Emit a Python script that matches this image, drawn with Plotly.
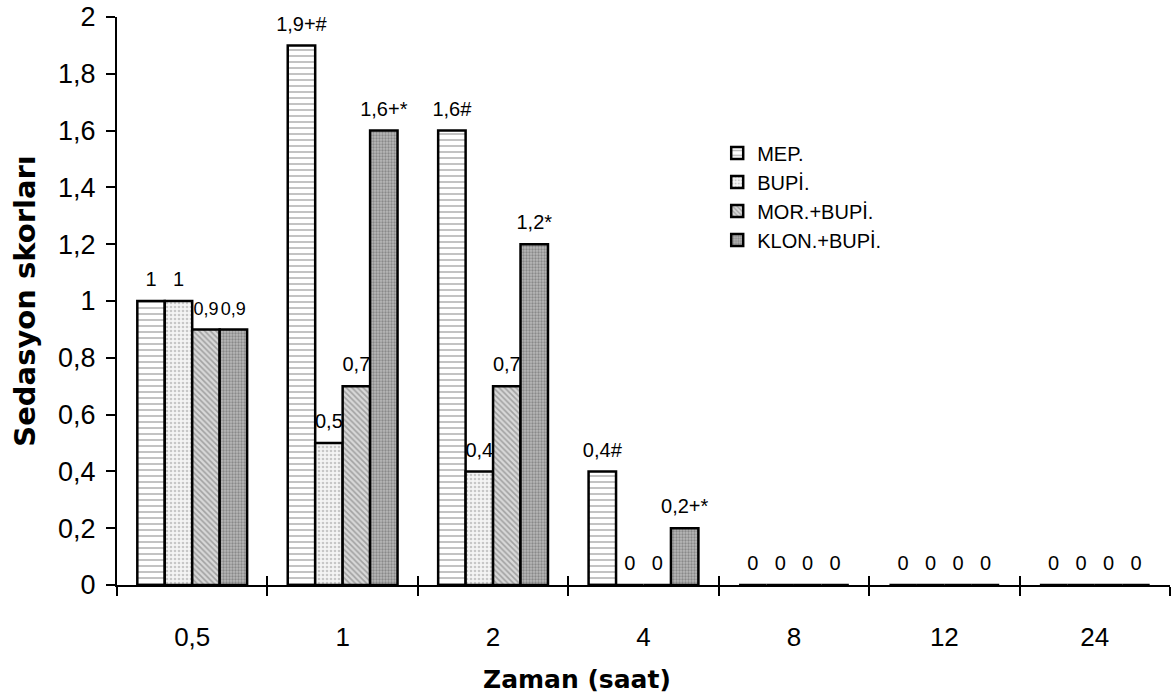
import plotly.graph_objects as go

categories = ["0,5", "1", "2", "4", "8", "12", "24"]
series_names = ["MEP.", "BUPİ.", "MOR.+BUPİ.", "KLON.+BUPİ."]
mep = [1.0, 1.9, 1.6, 0.4, 0, 0, 0]
bupi = [1.0, 0.5, 0.4, 0, 0, 0, 0]
mor = [0.9, 0.7, 0.7, 0, 0, 0, 0]
klon = [0.9, 1.6, 1.2, 0.2, 0, 0, 0]
mep_labels = ["1", "1,9+#", "1,6#", "0,4#", "0", "0", "0"]
bupi_labels = ["1", "0,5", "0,4", "0", "0", "0", "0"]
mor_labels = ["0,9", "0,7", "0,7", "0", "0", "0", "0"]
klon_labels = ["0,9", "1,6+*", "1,2*", "0,2+*", "0", "0", "0"]
y_ticks = [0, 0.2, 0.4, 0.6, 0.8, 1.0, 1.2, 1.4, 1.6, 1.8, 2.0]
x_title = "Zaman (saat)"
y_title = "Sedasyon skorları"

FONT = "Liberation Sans, Arial, sans-serif"
TFONT = "DejaVu Sans, Liberation Sans, Arial, sans-serif"

patterns = [
    dict(shape="-", fgcolor="#7a7a7a", bgcolor="white", size=6, solidity=0.3),
    dict(shape=".", fgcolor="#9a9a9a", bgcolor="#f4f4f4", size=4, solidity=0.35),
    dict(shape="\\", fgcolor="#6a6a6a", bgcolor="#d8d8d8", size=4, solidity=0.4),
    dict(shape=".", fgcolor="#5a5a5a", bgcolor="#b8b8b8", size=3, solidity=0.45),
]

fig = go.Figure()
all_vals = [mep, bupi, mor, klon]
all_labels = [mep_labels, bupi_labels, mor_labels, klon_labels]
for i, (name, vals, pat) in enumerate(zip(series_names, all_vals, patterns)):
    fig.add_trace(go.Bar(
        x=categories, y=vals, name=name, offsetgroup=str(i),
        marker=dict(color="white", pattern=pat, line=dict(color="black", width=2.5)),
    ))
for i, (vals, labels) in enumerate(zip(all_vals, all_labels)):
    # slightly smaller labels where two neighbouring labels would collide
    sizes = [18 if (lab.startswith("0,9")) else 20 for lab in labels]
    fig.add_trace(go.Scatter(
        x=categories, y=vals, text=labels, offsetgroup=str(i),
        mode="markers+text", textposition="top center",
        marker=dict(size=14, opacity=0), cliponaxis=False,
        textfont=dict(family=FONT, size=sizes, color="black"),
        showlegend=False, hoverinfo="skip",
    ))

# helper trace for inner half of crossing x ticks
fig.add_trace(go.Scatter(x=[], y=[], xaxis="x2", showlegend=False, hoverinfo="skip"))

fig.update_layout(
    width=1172, height=700,
    margin=dict(l=117, r=2, t=15, b=115),
    paper_bgcolor="white", plot_bgcolor="white",
    separators=", ",
    barmode="group", bargap=0.27, bargroupgap=0,
    scattermode="group", scattergap=0.27,
    font=dict(family=FONT, size=26, color="black"),
    showlegend=True,
    legend=dict(x=0.57, y=0.795, xanchor="left", yanchor="top",
                font=dict(family=FONT, size=20, color="black"),
                bgcolor="rgba(0,0,0,0)", itemwidth=30, tracegroupgap=0),
    xaxis=dict(
        type="category", categoryorder="array", categoryarray=categories,
        range=[-0.5, 6.5],
        showline=True, linecolor="black", linewidth=2,
        ticks="outside", tickson="boundaries", ticklen=9, tickwidth=2, tickcolor="black",
        ticklabelstandoff=28,
        tickfont=dict(family=FONT, size=26, color="black"),
        showgrid=False, zeroline=False,
    ),
    xaxis2=dict(
        overlaying="x", anchor="y", range=[-0.5, 6.5],
        tickvals=[-0.5, 0.5, 1.5, 2.5, 3.5, 4.5, 5.5, 6.5],
        ticks="inside", ticklen=9, tickwidth=2, tickcolor="black",
        showticklabels=False, showline=False, showgrid=False, zeroline=False,
    ),
    yaxis=dict(
        range=[0, 2], tickvals=y_ticks,
        showline=True, linecolor="black", linewidth=2,
        ticks="outside", ticklen=9, tickwidth=2, tickcolor="black",
        ticklabelstandoff=5,
        tickfont=dict(family=FONT, size=27, color="black"),
        title=dict(text="<b>" + y_title + "</b>", font=dict(family=TFONT, size=29, color="black"), standoff=14),
        showgrid=False, zeroline=False,
    ),
    annotations=[dict(
        text="<b>" + x_title + "</b>", xref="paper", yref="paper",
        x=0.437, y=-0.167, xanchor="center", yanchor="middle", showarrow=False,
        font=dict(family=TFONT, size=25, color="black"),
    )],
)

fig.write_html("out.html")
